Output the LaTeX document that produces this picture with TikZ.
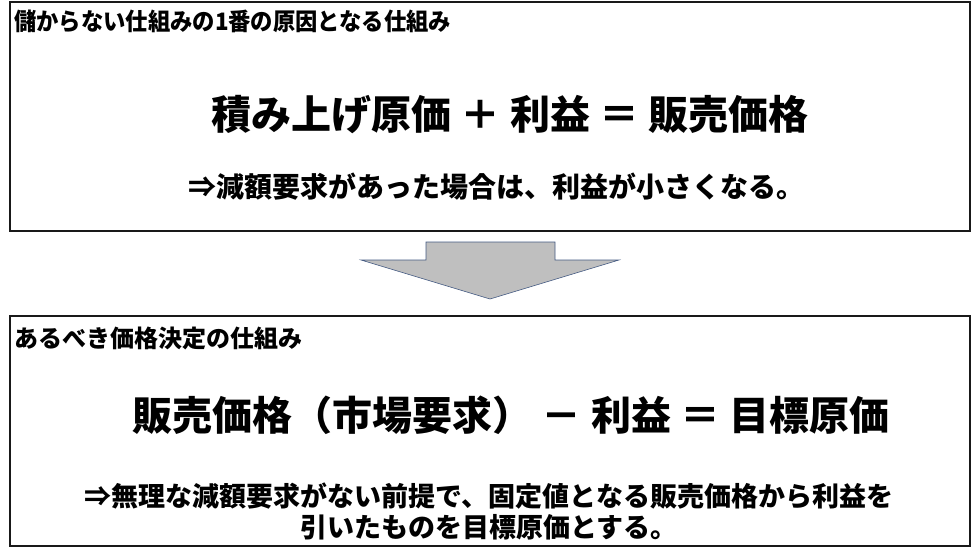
\documentclass[tikz,border=0pt]{standalone}
\usepackage{fontspec}
\setmainfont{Noto Sans CJK JP}
\definecolor{arrowfill}{RGB}{191,191,191}
\definecolor{arrowline}{RGB}{68,90,130}
\tikzset{
  panel/.style = {draw = black!90, line width = 2pt},
  heading/.style = {anchor = west, inner sep = 0, font = \bfseries\fontsize{24}{28}\selectfont},
  formula/.style = {inner sep = 0, font = \bfseries\fontsize{40}{46}\selectfont},
  remark/.style = {inner sep = 0, align = center, font = \bfseries\fontsize{27}{31}\selectfont}
}

\begin{document}
\begin{tikzpicture}[x = 1pt, y = -1pt]
  \useasboundingbox (0, 0) rectangle (972, 557);

  % upper panel
  \draw[panel] (10, 2) rectangle (970, 231);
  \node[heading] (oldtitle) at (14, 21)
    {\scalebox{0.93}[1]{儲からない仕組みの1番の原因となる仕組み}};
  \node[formula] (oldrule) at (510, 115) {積み上げ原価 ＋ 利益 ＝ 販売価格};
  \node[remark, font = \bfseries\fontsize{28}{32}\selectfont] (oldnote) at (496, 187)
    {⇒減額要求があった場合は、利益が小さくなる。};

  % block arrow
  \filldraw[fill = arrowfill, draw = arrowline, line width = 0.6pt]
    (426, 242) -- (555, 242) -- (555, 260) -- (619, 260) -- (490, 299)
    -- (361, 260) -- (426, 260) -- cycle;

  % lower panel
  \draw[panel] (10, 316) rectangle (970, 546);
  \node[heading] (newtitle) at (14, 338) {あるべき価格決定の仕組み};
  \node[formula] (newrule) at (511, 415) {販売価格（市場要求） － 利益 ＝ 目標原価};
  \node[remark] (newnote) at (489, 511)
    {⇒無理な減額要求がない前提で、固定値となる販売価格から利益を\\引いたものを目標原価とする。};
\end{tikzpicture}
\end{document}
